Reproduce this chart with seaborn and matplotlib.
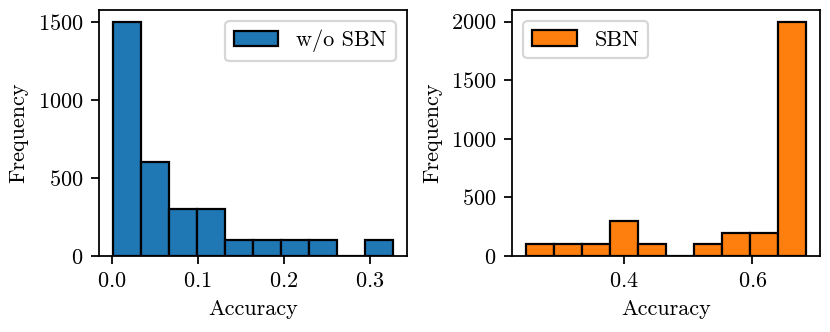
import numpy as np
import seaborn as sns
import matplotlib
matplotlib.use("Agg")
import matplotlib.pyplot as plt

# histogram counts (10 bins each)
wo_sbn_counts = [1500, 600, 300, 300, 100, 100, 100, 100, 0, 100]
wo_sbn_range = (0.001, 0.327)
sbn_counts = [100, 100, 100, 300, 100, 0, 100, 200, 200, 2000]
sbn_range = (0.247, 0.684)
n_bins = 10


def bin_centers(rng, n):
    edges = np.linspace(rng[0], rng[1], n + 1)
    return (edges[:-1] + edges[1:]) / 2


def plot_hist(ax, counts, rng, color, label, loc):
    sns.histplot(x=bin_centers(rng, n_bins), weights=counts, bins=n_bins,
                 binrange=rng, color=color, edgecolor="black", linewidth=1,
                 alpha=1, label=label, ax=ax)
    ax.set_xlabel("Accuracy")
    ax.set_ylabel("Frequency")
    ax.legend(loc=loc)


if __name__ == "__main__":
    plt.rcParams["font.family"] = "cmr10"
    plt.rcParams["axes.formatter.use_mathtext"] = True
    plt.rcParams["font.size"] = 10

    fig = plt.figure(figsize=(830 / 160, 332 / 160), dpi=160)
    ax1 = fig.add_axes([0.119, 0.229, 0.371, 0.741])
    ax2 = fig.add_axes([0.617, 0.229, 0.371, 0.741])

    plot_hist(ax1, wo_sbn_counts, wo_sbn_range, "#1f77b4", "w/o SBN", "upper right")
    plot_hist(ax2, sbn_counts, sbn_range, "#ff7f0e", "SBN", "upper left")

    fig.savefig("out.png", dpi=160)
